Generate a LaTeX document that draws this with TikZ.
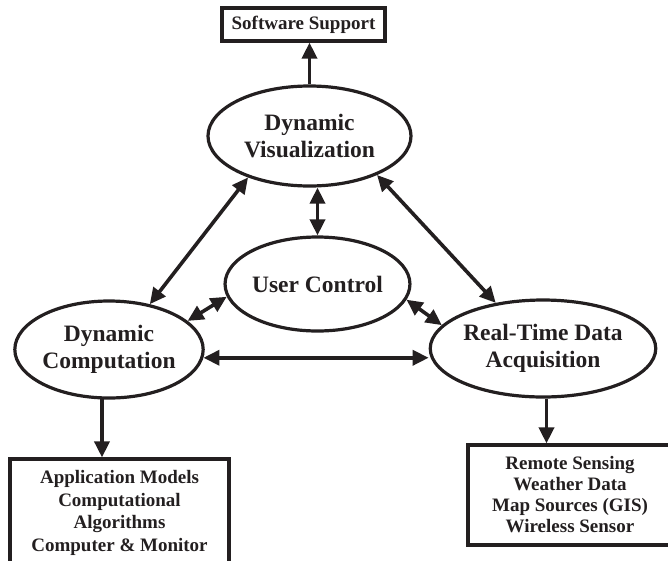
\documentclass[tikz,border=0pt]{standalone}
\usepackage{fontspec}
\setmainfont{Liberation Serif}
\usetikzlibrary{shapes.geometric,arrows.meta}
\definecolor{ink}{HTML}{231F20}
\begin{document}
\begin{tikzpicture}[x=1pt,y=-1pt,
  ell/.style={ellipse, draw=ink, text=ink, line width=3.2pt, inner sep=0pt, align=center,
    font=\fontsize{23.5}{27}\selectfont\bfseries},
  boxnode/.style={rectangle, draw=ink, text=ink, line width=3.2pt, inner sep=0pt, align=center,
    font=\fontsize{19}{22}\selectfont\bfseries},
  tip/.style={Triangle[length=16pt,width=15pt]},
  arr/.style={draw=ink, -{Triangle[length=16pt,width=15pt]}, line width=3.6pt},
  darr/.style={draw=ink, {Triangle[length=16pt,width=15pt]}-{Triangle[length=16pt,width=15pt]}, line width=3.6pt}]
\useasboundingbox (0,0) rectangle (668,560);
\clip (0,0) rectangle (668,560);

\node[boxnode, minimum width=163pt, minimum height=33pt] (ss) at (303.5,24.5) {Software Support};
\node[ell, minimum width=203pt, minimum height=100pt] (dv) at (309.5,136) {Dynamic\\Visualization};
\node[ell, minimum width=151pt, minimum height=94pt] (uc) at (317.5,284) {User Control};
\node[ell, minimum width=172pt, minimum height=97pt] (dc) at (109,349.5) {Dynamic\\Computation};
\node[ell, minimum width=194pt, minimum height=97pt] (rt) at (543,348.5) {Real-Time Data\\Acquisition};
\node[boxnode, minimum width=219pt, minimum height=108pt, font=\fontsize{19}{22.7}\selectfont\bfseries] (lb) at (119.5,513)
  {Application Models\\Computational\\Algorithms\\Computer \& Monitor};
\node[boxnode, minimum width=204pt, minimum height=100pt, font=\fontsize{19}{21}\selectfont\bfseries] (rb) at (570,495)
  {Remote Sensing\\Weather Data\\Map Sources (GIS)\\Wireless Sensor};

\draw[arr] (dv.north) -- (dv.north |- ss.south);
\draw[darr] (dv.-146.3) -- (dc.48.8);
\draw[darr] (dv.-30.5) -- (rt.136);
\draw[darr] (uc.north) -- (uc.north |- dv.south);
\draw[darr] (uc.188.6) -- (dc.20);
\draw[darr] (uc.-10.6) -- (rt.167.2);
\draw[darr] (dc.-5.6) -- (dc.-5.6 -| rt.west);
\draw[arr] (dc.-98.2) -- (dc.-98.2 |- lb.north);
\draw[arr] (rt.-86) -- (rt.-86 |- rb.north);
\end{tikzpicture}
\end{document}
